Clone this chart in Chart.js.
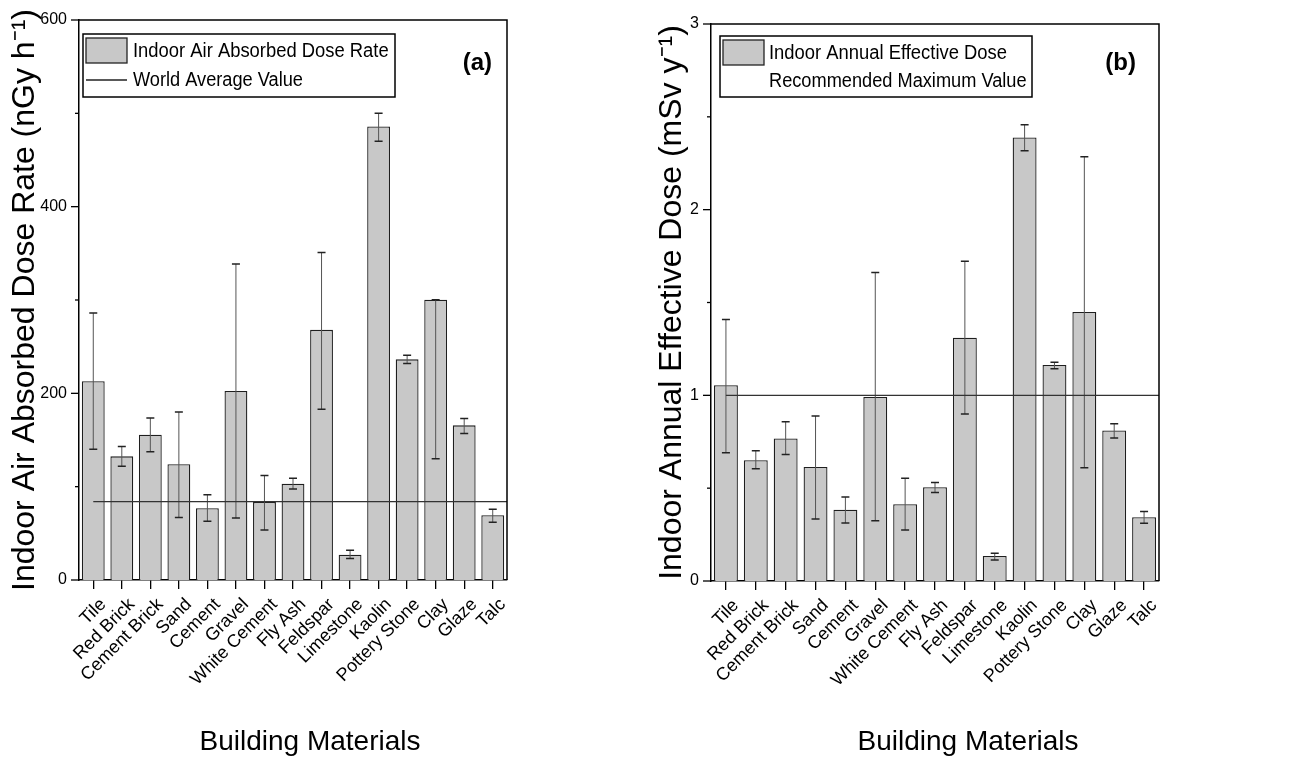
<!DOCTYPE html>
<html>
<head>
<meta charset="utf-8">
<script src="https://cdn.jsdelivr.net/npm/chart.js@4.4.0/dist/chart.umd.min.js"></script>
<style>
    html, body { margin: 0; padding: 0; background: #fff; }
    #wrap { position: relative; width: 1306px; height: 762px; overflow: hidden; }
    .box { position: absolute; top: 0; height: 762px; }
</style>
</head>
<body>
<div id="wrap">
    <div class="box" style="left:0;width:640px"><canvas id="chartA"></canvas></div>
    <div class="box" style="left:640px;width:666px"><canvas id="chartB"></canvas></div>
</div>
<script>
// -------- DATA --------
const materials = ['Tile', 'Red Brick', 'Cement Brick', 'Sand', 'Cement', 'Gravel', 'White Cement', 'Fly Ash',
    'Feldspar', 'Limestone', 'Kaolin', 'Pottery Stone', 'Clay', 'Glaze', 'Talc'];

// panel (a) nGy h-1
const doseRate     = [213, 132.5, 155.7, 124, 77, 202.5, 83.6, 103, 268, 27, 486, 236.4, 300.3, 165.7, 69.3];
const doseRateHigh = [286, 143, 173.6, 180, 91.4, 338.6, 112, 109, 351, 31.8, 500, 240.7, 300.3, 173, 75.7];
const doseRateLow  = [140, 122, 137.5, 67, 63, 66.4, 53.6, 97.5, 183, 23, 470, 232, 130, 157, 62];
const worldAverage = 84;

// panel (b) mSv y-1
const annualDose     = [1.054, 0.65, 0.768, 0.614, 0.384, 0.991, 0.413, 0.505, 1.31, 0.135, 2.389, 1.163, 1.449, 0.811, 0.343];
const annualDoseHigh = [1.409, 0.702, 0.858, 0.889, 0.452, 1.662, 0.553, 0.531, 1.722, 0.149, 2.457, 1.178, 2.285, 0.847, 0.375];
const annualDoseLow  = [0.691, 0.605, 0.682, 0.334, 0.312, 0.325, 0.275, 0.476, 0.899, 0.113, 2.317, 1.143, 0.61, 0.77, 0.311];
const recommendedMax = 1;
// -------- END DATA --------

const FONT = '"Liberation Sans", Arial, sans-serif';
Chart.defaults.font.family = FONT;
Chart.defaults.color = '#000';

// text squeezed a little horizontally, like the narrow legend font of the original
function squeezedText(ctx, text, x, y, sx) {
    ctx.save();
    ctx.translate(x, y);
    ctx.scale(sx, 1);
    ctx.fillText(text, 0, 0);
    ctx.restore();
}

// draws error bars, reference line, frame, minor ticks, legend and labels
function makePanelPlugin(p) {
    return {
        id: 'panel',
        afterDatasetsDraw(chart) {
            const { ctx, chartArea: a, scales: { x, y } } = chart;
            const meta = chart.getDatasetMeta(0);
            ctx.save();
            meta.data.forEach((bar, i) => {
                const yHi = y.getPixelForValue(p.high[i]);
                const yLo = y.getPixelForValue(p.low[i]);
                ctx.strokeStyle = '#555';
                ctx.lineWidth = 1;
                ctx.beginPath();
                ctx.moveTo(bar.x, yHi);
                ctx.lineTo(bar.x, yLo);
                ctx.stroke();
                ctx.strokeStyle = '#222';
                ctx.lineWidth = 1.5;
                ctx.beginPath();
                ctx.moveTo(bar.x - 4, yHi); ctx.lineTo(bar.x + 4, yHi);
                ctx.moveTo(bar.x - 4, yLo); ctx.lineTo(bar.x + 4, yLo);
                ctx.stroke();
            });
            const yRef = y.getPixelForValue(p.refValue);
            ctx.strokeStyle = '#333';
            ctx.lineWidth = 1.3;
            ctx.beginPath();
            ctx.moveTo(x.getPixelForValue(0), yRef);
            ctx.lineTo(a.right, yRef);
            ctx.stroke();
            ctx.restore();
        },
        afterDraw(chart) {
            const { ctx, chartArea: a, scales: { y } } = chart;
            ctx.save();
            // frame top / right
            ctx.strokeStyle = '#000';
            ctx.lineWidth = 1.5;
            ctx.beginPath();
            ctx.moveTo(a.left, a.top); ctx.lineTo(a.right, a.top); ctx.lineTo(a.right, a.bottom);
            ctx.stroke();
            // y ticks, major + minor
            ctx.lineWidth = 1.3;
            for (let v = 0; v <= p.max + 1e-9; v += p.minorStep) {
                const major = Math.abs(v / p.majorStep - Math.round(v / p.majorStep)) < 1e-6;
                const yy = y.getPixelForValue(v);
                ctx.beginPath();
                ctx.moveTo(a.left - (major ? 8 : 4), yy);
                ctx.lineTo(a.left, yy);
                ctx.stroke();
            }
            // legend
            const lx = a.left + p.legend.dx, ly = a.top + p.legend.dy;
            ctx.lineWidth = 1.5;
            ctx.strokeStyle = '#000';
            ctx.strokeRect(lx, ly, p.legend.w, p.legend.h);
            ctx.fillStyle = '#c8c8c8';
            ctx.fillRect(lx + 3, ly + 4, 41, 25);
            ctx.strokeStyle = '#222';
            ctx.lineWidth = 1.3;
            ctx.strokeRect(lx + 3, ly + 4, 41, 25);
            if (p.legendLine) {
                ctx.beginPath();
                ctx.moveTo(lx + 3, ly + p.legend.row2);
                ctx.lineTo(lx + 44, ly + p.legend.row2);
                ctx.stroke();
            }
            ctx.fillStyle = '#000';
            ctx.font = '20px ' + FONT;
            ctx.textAlign = 'left';
            ctx.textBaseline = 'middle';
            squeezedText(ctx, p.barLabel, lx + p.legend.textX, ly + 17, 0.92);
            squeezedText(ctx, p.refLabel, lx + p.legend.textX, ly + p.legend.row2, 0.91);
            // panel letter
            ctx.font = 'bold 24px ' + FONT;
            ctx.textAlign = 'right';
            ctx.fillText(p.letter, a.right - p.letterInset, a.top + p.letterDy);
            // x title
            ctx.font = '28px ' + FONT;
            ctx.textAlign = 'center';
            ctx.fillText('Building Materials', p.xTitleX, 742);
            ctx.restore();
        }
    };
}

function makeChart(id, p) {
    return new Chart(document.getElementById(id), {
        type: 'bar',
        data: {
            labels: materials,
            datasets: [{
                label: p.barLabel,
                data: p.values,
                backgroundColor: '#c8c8c8',
                borderColor: '#1e1e1e',
                borderWidth: 1.3,
                barPercentage: 0.8,
                categoryPercentage: 1.0
            }]
        },
        options: {
            responsive: true,
            maintainAspectRatio: false,
            animation: false,
            layout: { padding: { left: 0, right: p.padRight, top: p.padTop, bottom: 0 } },
            plugins: { legend: { display: false }, tooltip: { enabled: false } },
            scales: {
                x: {
                    grid: { offset: false, drawOnChartArea: false, color: '#000', tickLength: 9, lineWidth: 1.3 },
                    border: { color: '#000', width: 1.5 },
                    ticks: { color: '#000', font: { size: 18 }, maxRotation: 45, minRotation: 45, autoSkip: false, padding: 5, labelOffset: 10 },
                    afterFit: s => { s.height = p.xAxisHeight; }
                },
                y: {
                    min: 0,
                    max: p.max,
                    grid: { display: false, tickLength: 8 },
                    border: { color: '#000', width: 1.5 },
                    ticks: { stepSize: p.majorStep, color: '#000', font: { size: 16 }, padding: 4 },
                    title: { display: true, text: p.yTitle, font: { size: 32 }, color: '#000', padding: { top: p.yTitlePad, bottom: 0 } },
                    afterFit: s => { s.width = p.yAxisWidth; }
                }
            }
        },
        plugins: [makePanelPlugin(p)]
    });
}

makeChart('chartA', {
    values: doseRate, high: doseRateHigh, low: doseRateLow, refValue: worldAverage,
    barLabel: 'Indoor Air Absorbed Dose Rate', refLabel: 'World Average Value', legendLine: true,
    yTitle: 'Indoor Air Absorbed Dose Rate (nGy h\u207B\u00B9)', letter: '(a)',
    max: 600, majorStep: 200, minorStep: 100,
    yAxisWidth: 79, xAxisHeight: 182, padTop: 20, padRight: 133, yTitlePad: 6,
    legend: { dx: 4, dy: 14, w: 312, h: 63, textX: 50, row2: 46 },
    letterInset: 15, letterDy: 43, xTitleX: 310
});

makeChart('chartB', {
    values: annualDose, high: annualDoseHigh, low: annualDoseLow, refValue: recommendedMax,
    barLabel: 'Indoor Annual Effective Dose', refLabel: 'Recommended Maximum Value', legendLine: false,
    yTitle: 'Indoor Annual Effective Dose (mSv y\u207B\u00B9)', letter: '(b)',
    max: 3, majorStep: 1, minorStep: 0.5,
    yAxisWidth: 71, xAxisHeight: 181, padTop: 24, padRight: 147, yTitlePad: 13,
    legend: { dx: 9, dy: 12, w: 312, h: 61, textX: 49, row2: 45 },
    letterInset: 23, letterDy: 39, xTitleX: 328
});
</script>
</body>
</html>
